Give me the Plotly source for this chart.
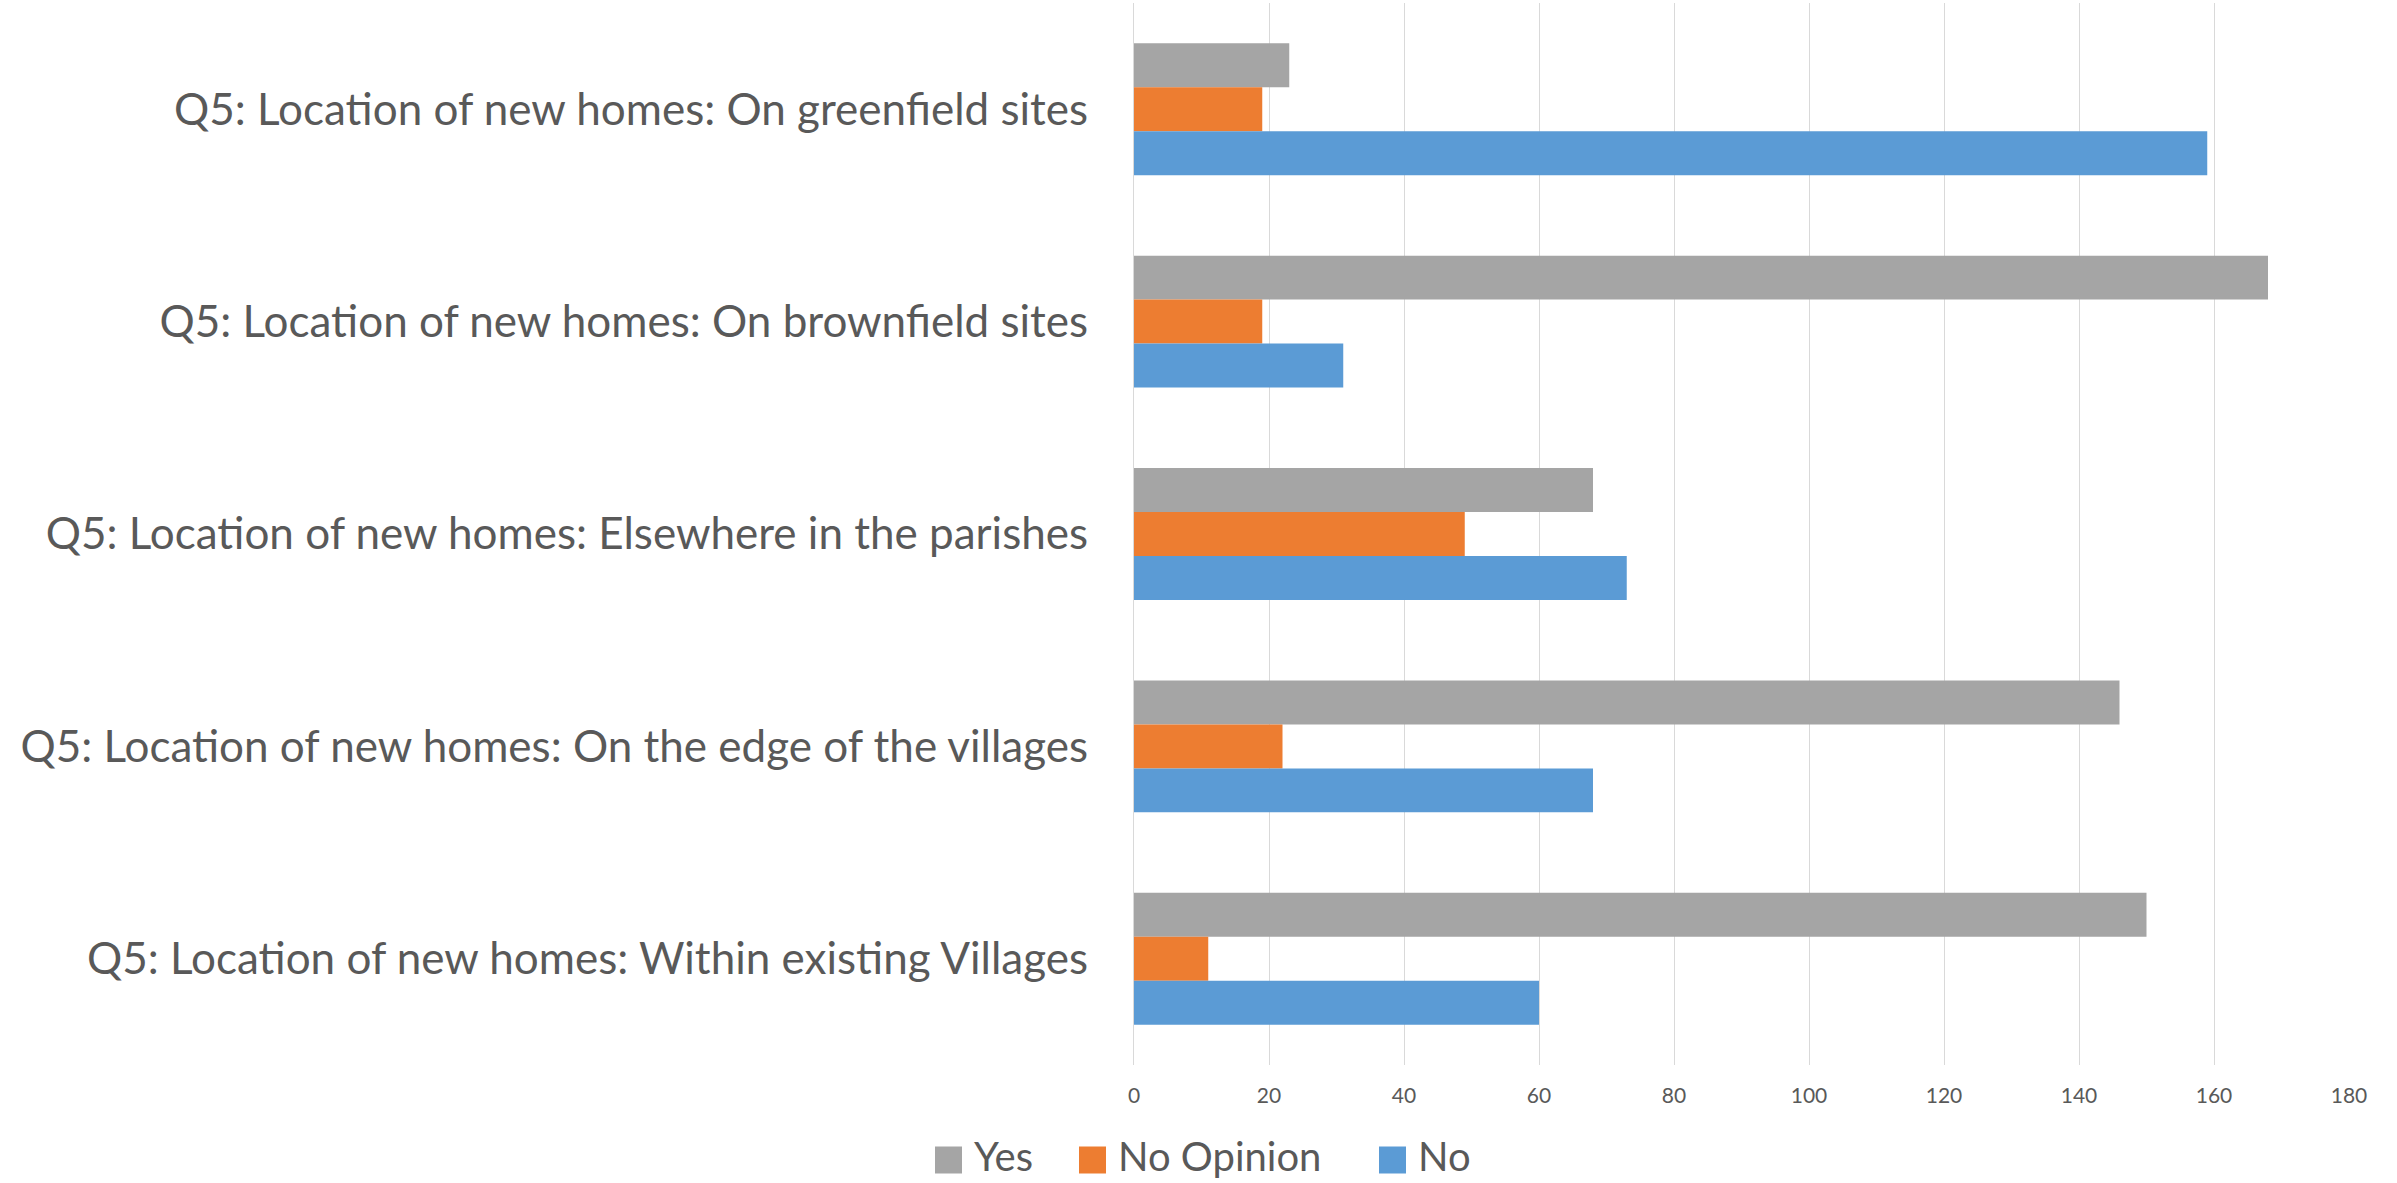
import plotly.graph_objects as go

# Survey responses, Q5: preferred location of new homes
categories = [
    "Q5: Location of new homes: On greenfield sites",
    "Q5: Location of new homes: On brownfield sites",
    "Q5: Location of new homes: Elsewhere in the parishes",
    "Q5: Location of new homes: On the edge of the villages",
    "Q5: Location of new homes: Within existing Villages",
]
series_names = ["Yes", "No Opinion", "No"]
yes_values = [23, 168, 68, 146, 150]
no_opinion_values = [19, 19, 49, 22, 11]
no_values = [159, 31, 73, 68, 60]
x_ticks = [0, 20, 40, 60, 80, 100, 120, 140, 160, 180]

colors = ["#A5A5A5", "#ED7D31", "#5B9BD5"]
text_color = "#595959"
font_family = "Lato, 'Open Sans', sans-serif"

W, H = 2397, 1183
left, right, top, bottom = 1134, 2349, 3, 1065


def px_to_paper_x(px):
    return (px - left) / (right - left)


def px_to_paper_y(py):
    return (bottom - py) / (bottom - top)


fig = go.Figure()
for name, vals, col in zip(series_names, [yes_values, no_opinion_values, no_values], colors):
    fig.add_trace(go.Bar(
        name=name, y=categories, x=vals, orientation="h",
        marker=dict(color=col, line=dict(width=0)),
        showlegend=False,
    ))

# Custom legend row beneath the axis: coloured squares with labels
legend_x = [935, 1079, 1379]
legend_y = 1160
sq = 27
for lx, name, col in zip(legend_x, series_names, colors):
    fig.add_shape(type="rect", xref="paper", yref="paper",
                  x0=px_to_paper_x(lx), x1=px_to_paper_x(lx + sq),
                  y0=px_to_paper_y(legend_y + sq / 2), y1=px_to_paper_y(legend_y - sq / 2),
                  fillcolor=col, line=dict(width=0))
    fig.add_annotation(xref="paper", yref="paper",
                       x=px_to_paper_x(lx + sq + 10), y=px_to_paper_y(legend_y - 4),
                       xanchor="left", yanchor="middle", showarrow=False,
                       text=name, font=dict(size=40, color=text_color, family=font_family))

fig.update_layout(
    width=W, height=H,
    margin=dict(l=left, r=W - right, t=top, b=H - bottom, autoexpand=False),
    paper_bgcolor="white", plot_bgcolor="white",
    barmode="group", bargap=0.379, bargroupgap=0,
    font=dict(family=font_family, color=text_color),
    showlegend=False,
)
fig.update_xaxes(
    range=[0, 180], tickvals=x_ticks, ticktext=[str(t) for t in x_ticks],
    showgrid=True, gridcolor="#D9D9D9", gridwidth=1.3,
    zeroline=False, showline=False, ticks="",
    tickfont=dict(size=21, color=text_color), ticklabelstandoff=16,
)
fig.update_yaxes(
    autorange="reversed", showgrid=False, zeroline=False,
    showline=True, linecolor="#D9D9D9", linewidth=1.3, ticks="",
    tickfont=dict(size=44, color=text_color), ticklabelstandoff=36,
)

fig.write_html("out.html")
